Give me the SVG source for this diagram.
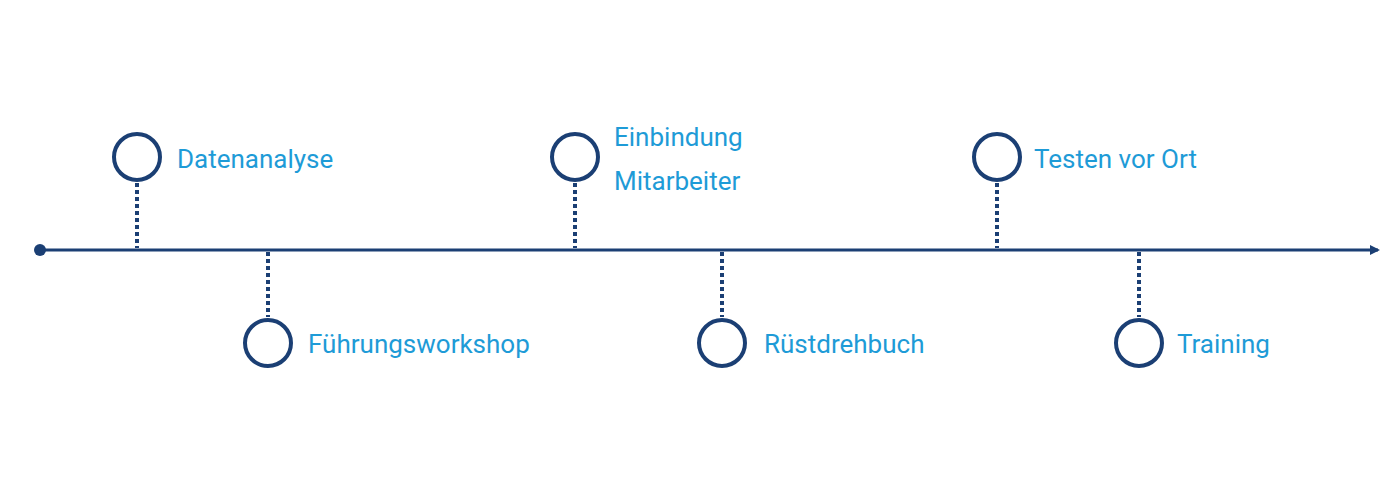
<svg xmlns="http://www.w3.org/2000/svg" width="1400" height="500" viewBox="0 0 1400 500">
<style>
.c{fill:none;stroke:#1b3f74;stroke-width:4}
.d{stroke:#1b3f74;stroke-width:4;stroke-dasharray:4 3}
.t{fill:#1e9bd7;font-family:Roboto,"Liberation Sans",sans-serif;font-size:26px}
</style>
<defs><marker id="a" markerWidth="10" markerHeight="10" refX="8" refY="5" orient="auto" markerUnits="userSpaceOnUse"><path d="M0,0 L10,5 L0,10 Z" fill="#1b3f74"/></marker></defs>
<rect width="1400" height="500" fill="#fff"/>
<g id="connectors">
<line x1="40" y1="250" x2="1378" y2="250" stroke="#1b3f74" stroke-width="3" marker-end="url(#a)"/>
<circle cx="40" cy="250" r="6" fill="#1b3f74"/>
<line class="d" x1="137" y1="183" x2="137" y2="248"/>
<line class="d" x1="268" y1="252" x2="268" y2="317"/>
<line class="d" x1="575" y1="183" x2="575" y2="248"/>
<line class="d" x1="722" y1="252" x2="722" y2="317"/>
<line class="d" x1="997" y1="183" x2="997" y2="248"/>
<line class="d" x1="1139" y1="252" x2="1139" y2="317"/>
</g>
<g id="n1"><circle class="c" cx="137" cy="157" r="23"/><text class="t" x="177" y="168">Datenanalyse</text></g>
<g id="n2"><circle class="c" cx="268" cy="343" r="23"/><text class="t" x="308" y="353">Führungsworkshop</text></g>
<g id="n3"><circle class="c" cx="575" cy="157" r="23"/><text class="t" x="614" y="146">Einbindung</text><text class="t" x="614" y="190">Mitarbeiter</text></g>
<g id="n4"><circle class="c" cx="722" cy="343" r="23"/><text class="t" x="764" y="353">Rüstdrehbuch</text></g>
<g id="n5"><circle class="c" cx="997" cy="157" r="23"/><text class="t" x="1034" y="168">Testen vor Ort</text></g>
<g id="n6"><circle class="c" cx="1139" cy="343" r="23"/><text class="t" x="1177" y="353">Training</text></g>
</svg>
